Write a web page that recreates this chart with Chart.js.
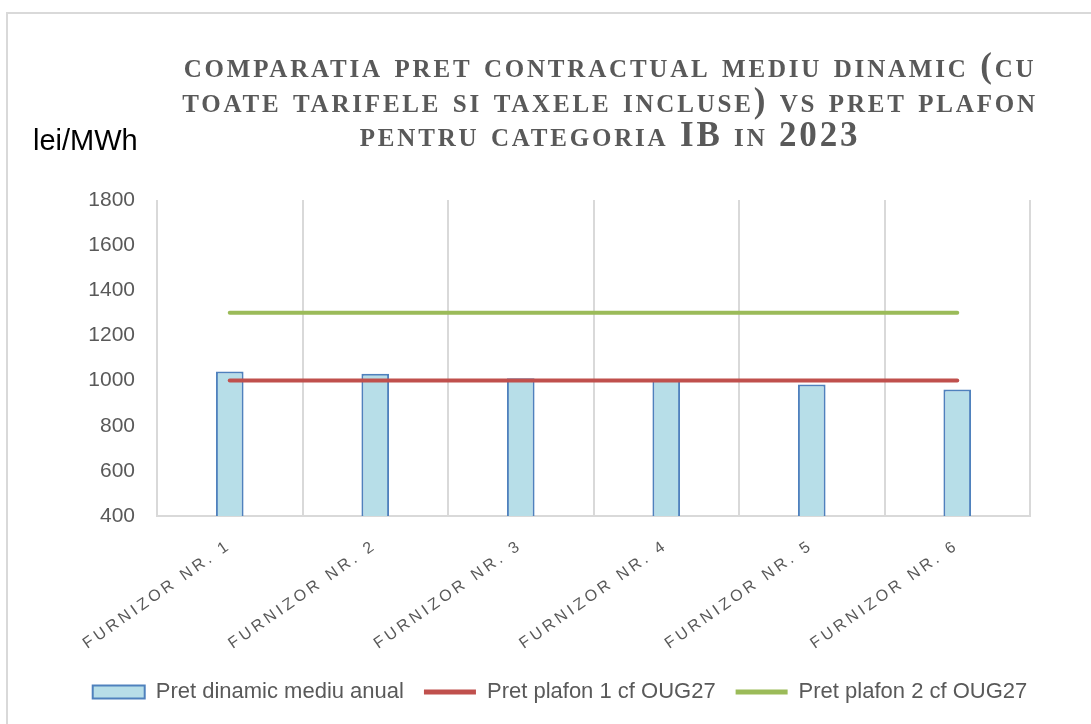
<!DOCTYPE html>
<html>
<head>
<meta charset="utf-8">
<script src="https://cdn.jsdelivr.net/npm/chart.js@4.4.1/dist/chart.umd.min.js"></script>
<style>
html,body{margin:0;padding:0;background:#fff;overflow:hidden}
#wrap{width:1091px;height:724px;position:relative}
canvas{display:block}
</style>
</head>
<body>
<div id="wrap"><canvas id="c" width="1091" height="724"></canvas></div>
<script>
// ---- data ----
const categories = ['FURNIZOR NR. 1', 'FURNIZOR NR. 2', 'FURNIZOR NR. 3', 'FURNIZOR NR. 4', 'FURNIZOR NR. 5', 'FURNIZOR NR. 6'];
const pretDinamic = [1040, 1030, 1010, 1007, 983, 960];
const pretPlafon1 = [1000, 1000, 1000, 1000, 1000, 1000];
const pretPlafon2 = [1300, 1300, 1300, 1300, 1300, 1300];
const seriesNames = ['Pret dinamic mediu anual', 'Pret plafon 1 cf OUG27', 'Pret plafon 2 cf OUG27'];
const yMin = 400, yMax = 1800, yStep = 200;
const titleLines = [
  'comparatia pret contractual mediu dinamic (cu',
  'toate tarifele si taxele incluse) vs pret plafon',
  'pentru categoria IB in 2023'
];
const yUnit = 'lei/MWh';

// ---- plugins ----
const framePlugin = {
  id: 'frame',
  beforeDraw(chart) {
    const ctx = chart.ctx;
    ctx.save();
    ctx.strokeStyle = '#D9D9D9';
    ctx.lineWidth = 2;
    ctx.beginPath();
    ctx.moveTo(7, 724);
    ctx.lineTo(7, 13);
    ctx.lineTo(1091, 13);
    ctx.stroke();
    ctx.restore();
  }
};

const textPlugin = {
  id: 'texts',
  afterDraw(chart) {
    const ctx = chart.ctx;
    ctx.save();
    ctx.fillStyle = '#595959';
    ctx.font = 'small-caps bold 35px "Liberation Serif"';
    if ('fontVariantCaps' in ctx) ctx.fontVariantCaps = 'small-caps';
    ctx.textAlign = 'center';
    ctx.textBaseline = 'alphabetic';
    ctx.letterSpacing = '2.8px';
    titleLines.forEach((t, i) => ctx.fillText(t, 610, 77 + i * 34.5));
    if ('fontVariantCaps' in ctx) ctx.fontVariantCaps = 'normal';
    ctx.letterSpacing = '0px';
    ctx.font = '29px "Liberation Sans"';
    ctx.fillStyle = '#000000';
    ctx.textAlign = 'left';
    ctx.fillText(yUnit, 33, 150);
    ctx.restore();
  }
};

const spacingPlugin = {
  id: 'tickSpacing',
  afterUpdate(chart) {
    const s = chart.scales.x;
    if (s && !s.__spaced) {
      const orig = s.drawLabels.bind(s);
      s.drawLabels = function (area) {
        const c = this.ctx;
        const prev = c.letterSpacing;
        c.letterSpacing = '3.5px';
        orig(area);
        c.letterSpacing = prev || '0px';
      };
      s.__spaced = true;
    }
  }
};

const ctx = document.getElementById('c').getContext('2d');
new Chart(ctx, {
  data: {
    labels: categories,
    datasets: [
      {
        type: 'bar', label: seriesNames[0], data: pretDinamic, yAxisID: 'y',
        backgroundColor: '#B7DEE8', borderColor: '#4F81BD', borderWidth: 2,
        barPercentage: 0.19, categoryPercentage: 1.0, order: 3
      },
      {
        type: 'line', label: seriesNames[1], data: pretPlafon1, yAxisID: 'y',
        borderColor: '#C0504D', backgroundColor: '#C0504D', borderWidth: 4,
        pointRadius: 0, borderCapStyle: 'round', fill: false, order: 2
      },
      {
        type: 'line', label: seriesNames[2], data: pretPlafon2, yAxisID: 'y',
        borderColor: '#9BBB59', backgroundColor: '#9BBB59', borderWidth: 4,
        pointRadius: 0, borderCapStyle: 'round', fill: false, order: 1
      }
    ]
  },
  options: {
    responsive: false,
    devicePixelRatio: 1,
    animation: false,
    layout: { padding: { left: 29, right: 0, top: 200, bottom: 11 } },
    plugins: {
      title: { display: false },
      tooltip: { enabled: false },
      legend: {
        position: 'bottom',
        labels: {
          usePointStyle: true,
          pointStyleWidth: 52,
          boxHeight: 13,
          padding: 20,
          color: '#595959',
          font: { family: 'Liberation Sans', size: 22 },
          generateLabels(chart) {
            return chart.data.datasets.map((ds, i) => ({
              text: ds.label,
              datasetIndex: i,
              fillStyle: ds.type === 'bar' ? ds.backgroundColor : ds.borderColor,
              strokeStyle: ds.borderColor,
              lineWidth: ds.type === 'bar' ? 2 : 5,
              lineCap: 'butt',
              pointStyle: ds.type === 'bar' ? 'rect' : 'line',
              fontColor: '#595959',
              hidden: false
            }));
          }
        }
      }
    },
    scales: {
      x: {
        offset: true,
        grid: { display: true, offset: true, color: '#D9D9D9', lineWidth: 2, drawTicks: false },
        border: { display: true, color: '#D9D9D9', width: 2 },
        ticks: {
          color: '#595959',
          font: { family: 'Liberation Sans', size: 16 },
          minRotation: 35, maxRotation: 35, autoSkip: false, padding: 20
        },
        afterFit(s) { s.height = 145; }
      },
      y: {
        min: yMin, max: yMax,
        grid: { display: false, drawTicks: false },
        border: { display: false },
        ticks: {
          stepSize: yStep,
          color: '#595959',
          font: { family: 'Liberation Sans', size: 21 },
          padding: 22,
          callback: (v) => String(v)
        },
        afterFit(s) { s.width = 128; }
      },
      y2: {
        position: 'right',
        display: true,
        grid: { display: false, drawTicks: false },
        border: { display: false },
        ticks: { display: false },
        afterFit(s) { s.width = 61; }
      }
    }
  },
  plugins: [framePlugin, textPlugin, spacingPlugin]
});
</script>
</body>
</html>
